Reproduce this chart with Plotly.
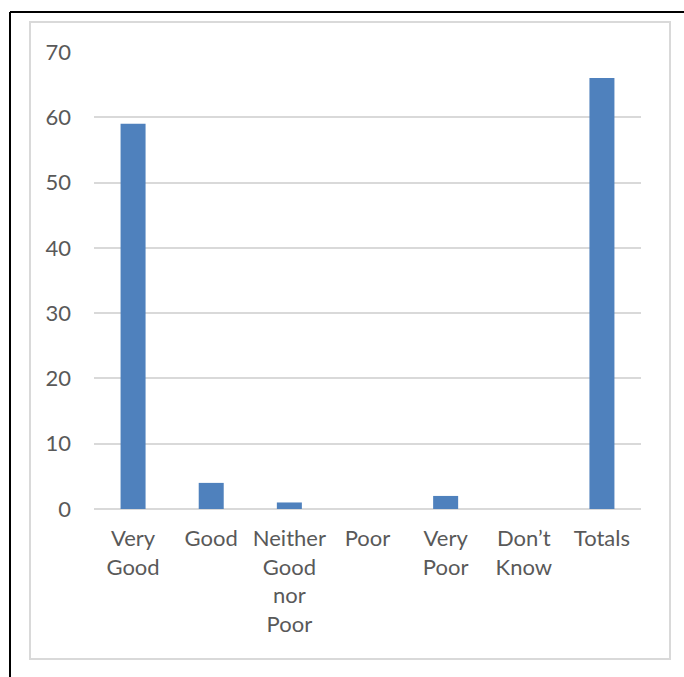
import plotly.graph_objects as go

categories = ["Very<br>Good", "Good", "Neither<br>Good<br>nor<br>Poor", "Poor", "Very<br>Poor", "Don’t<br>Know", "Totals"]
values = [59, 4, 1, 0, 2, 0, 66]
y_ticks = [0, 10, 20, 30, 40, 50, 60, 70]

W, H = 684, 677
L, R, T, B = 94, 43, 52, 168
pw, ph = W - L - R, H - T - B

def px(x):
    return (x - L) / pw

def py(y):
    return (H - B - y) / ph

fig = go.Figure(go.Bar(x=categories, y=values, marker_color="#4f81bd",
                       marker_line_width=0, width=0.32))

shapes = [
    dict(type="rect", xref="paper", yref="paper", x0=px(30), x1=px(670), y0=py(659), y1=py(22),
         line=dict(color="#d9d9d9", width=2), layer="below"),
    dict(type="line", xref="paper", yref="paper", x0=px(10), x1=px(690), y0=py(12), y1=py(12),
         line=dict(color="black", width=2)),
    dict(type="line", xref="paper", yref="paper", x0=px(10), x1=px(10), y0=py(12), y1=py(690),
         line=dict(color="black", width=2)),
]

fig.update_layout(
    width=W, height=H, margin=dict(l=L, r=R, t=T, b=B),
    paper_bgcolor="white", plot_bgcolor="white",
    font=dict(family="Lato", size=22, color="#595959"),
    showlegend=False, shapes=shapes,
    xaxis=dict(showgrid=False, showline=False, tickangle=0, ticks="", ticklabelstandoff=14),
    yaxis=dict(range=[0, 70], tickvals=y_ticks, showgrid=True, gridcolor="#d9d9d9", gridwidth=2,
               zeroline=True, zerolinecolor="#d9d9d9", zerolinewidth=2, ticks="",
               ticklabelstandoff=22, showline=False),
)

fig.write_html("out.html")
